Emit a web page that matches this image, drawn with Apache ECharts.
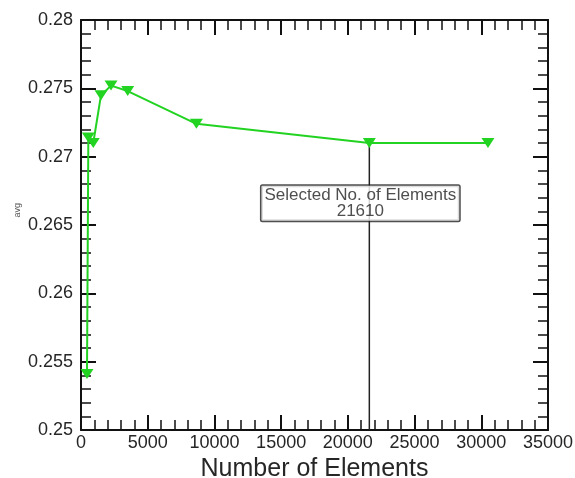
<!DOCTYPE html>
<html>
<head>
<meta charset="utf-8">
<script src="https://cdn.jsdelivr.net/npm/echarts@6/dist/echarts.min.js"></script>
<style>
  html, body { margin: 0; padding: 0; background: #fff; }
  #chart { width: 575px; height: 478px; }
</style>
</head>
<body>
<div id="chart"></div>
<script>
// Mesh-convergence study: averaged quantity vs. number of elements
const elementCounts = [450, 550, 920, 1500, 2250, 3500, 8650, 21610, 30500];
const avgValues = [0.2541, 0.2714, 0.2710, 0.2745, 0.2752, 0.2748, 0.2724, 0.2710, 0.2710];

// Chosen mesh size, marked by a drop line and a label box
const selectedCount = 21610;
const selectedValue = 0.2710;
const selectedLabelY = 0.2666;
const selectedLabelText = ['Selected No. of Elements', '21610'];

const xTickLabels = ['0', '5000', '10000', '15000', '20000', '25000', '30000', '35000'];
const yTickLabels = ['0.25', '0.255', '0.26', '0.265', '0.27', '0.275', '0.28'];

const X_MIN = 0, X_MAX = 35000, X_STEP = 5000;
const Y_MIN = 0.25, Y_MAX = 0.28, Y_STEP = 0.005;

const fontFamily = '"Liberation Sans", Arial, sans-serif';
const frameColor = '#111';
const textColor = '#262626';
const green = '#22d322';

function frameAxis(extra) {
  return Object.assign({
    axisLine: { show: true, onZero: false, lineStyle: { color: frameColor, width: 2 } },
    axisTick: { show: true, inside: true, length: 15, lineStyle: { color: frameColor, width: 2 } },
    minorTick: { show: true, splitNumber: 5, length: 10, lineStyle: { color: frameColor, width: 1.5 } },
    splitLine: { show: false },
    minorSplitLine: { show: false }
  }, extra);
}

const chart = echarts.init(document.getElementById('chart'), null, { renderer: 'canvas' });

chart.setOption({
  animation: false,
  backgroundColor: '#fff',
  grid: { left: 81, right: 27, top: 20, bottom: 48, containLabel: false, outerBoundsMode: 'none' },
  xAxis: [
    frameAxis({
      type: 'value', position: 'bottom', min: X_MIN, max: X_MAX, interval: X_STEP,
      name: 'Number of Elements', nameLocation: 'middle', nameGap: 20,
      nameTextStyle: { fontFamily, fontSize: 25, color: textColor },
      axisLabel: {
        fontFamily, fontSize: 18, color: textColor, margin: 4,
        formatter: (v) => xTickLabels[Math.round((v - X_MIN) / X_STEP)]
      }
    }),
    frameAxis({
      type: 'value', position: 'top', min: X_MIN, max: X_MAX, interval: X_STEP,
      axisLabel: { show: false }
    })
  ],
  yAxis: [
    frameAxis({
      type: 'value', position: 'left', min: Y_MIN, max: Y_MAX, interval: Y_STEP,
      axisLabel: {
        fontFamily, fontSize: 18, color: textColor, margin: 8,
        formatter: (v) => yTickLabels[Math.round((v - Y_MIN) / Y_STEP)]
      }
    }),
    frameAxis({
      type: 'value', position: 'right', min: Y_MIN, max: Y_MAX, interval: Y_STEP,
      axisLabel: { show: false }
    })
  ],
  graphic: [
    {
      type: 'text', left: 13, top: 203, rotation: Math.PI / 2,
      style: { text: 'avg', fontFamily, fontSize: 9, fill: '#555' }
    }
  ],
  series: [
    {
      type: 'line',
      name: 'drop',
      data: [[selectedCount, selectedValue], [selectedCount, Y_MIN]],
      showSymbol: false,
      lineStyle: { color: '#222', width: 1.5 },
      z: 2,
      silent: true
    },
    {
      type: 'line',
      name: 'avg',
      data: elementCounts.map((x, i) => [x, avgValues[i]]),
      symbol: 'triangle',
      symbolRotate: 180,
      symbolSize: [13, 10],
      itemStyle: { color: green },
      lineStyle: { color: green, width: 2 },
      z: 3
    },
    {
      type: 'scatter',
      name: 'selected',
      data: [[selectedCount, selectedLabelY]],
      symbolSize: 0,
      z: 5,
      label: {
        show: true,
        position: 'inside',
        offset: [-9, 0],
        formatter: () => selectedLabelText.join('\n'),
        fontFamily, fontSize: 17, lineHeight: 16, color: '#222',
        align: 'center',
        backgroundColor: '#fff',
        borderColor: '#222', borderWidth: 1.5, borderRadius: 1,
        padding: [2, 3, 1, 3]
      }
    }
  ]
});
</script>
</body>
</html>
